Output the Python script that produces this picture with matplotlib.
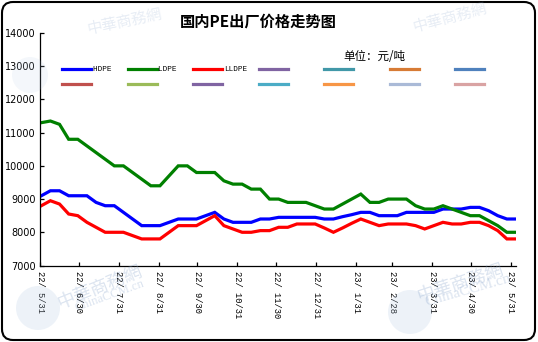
import pandas as pd
import numpy as np
import matplotlib
matplotlib.use('Agg')
import matplotlib.pyplot as plt
import matplotlib.dates as mdates
from matplotlib.lines import Line2D
from matplotlib.patches import FancyBboxPatch, Circle
from matplotlib.transforms import IdentityTransform

plt.rcParams['font.family'] = ['Noto Sans CJK SC', 'DejaVu Sans']

# weekly ex-works prices, yuan/ton
hdpe = [9100, 9250, 9250, 9100, 9100, 9100, 8900, 8800, 8800, 8600,
        8400, 8200, 8200, 8200, 8300, 8400, 8400, 8400, 8500, 8600,
        8400, 8300, 8300, 8300, 8400, 8400, 8450, 8450, 8450, 8450,
        8450, 8400, 8400, 8470, 8530, 8600, 8600, 8500, 8500, 8500,
        8600, 8600, 8600, 8600, 8700, 8700, 8700, 8750, 8750, 8650,
        8500, 8400, 8400]
ldpe = [11300, 11350, 11250, 10800, 10800, 10600, 10400, 10200, 10000, 10000,
        9800, 9600, 9400, 9400, 9700, 10000, 10000, 9800, 9800, 9800,
        9550, 9450, 9450, 9300, 9300, 9000, 9000, 8900, 8900, 8900,
        8800, 8700, 8700, 8850, 9000, 9150, 8900, 8900, 9000, 9000,
        9000, 8800, 8700, 8700, 8800, 8700, 8600, 8500, 8500, 8350,
        8200, 8000, 8000]
lldpe = [8800, 8950, 8850, 8550, 8500, 8300, 8150, 8000, 8000, 8000,
         7900, 7800, 7800, 7800, 8000, 8200, 8200, 8200, 8350, 8500,
         8200, 8100, 8000, 8000, 8050, 8050, 8150, 8150, 8250, 8250,
         8250, 8130, 8000, 8130, 8270, 8400, 8300, 8200, 8250, 8250,
         8250, 8200, 8100, 8200, 8300, 8250, 8250, 8300, 8300, 8200,
         8050, 7800, 7800]

dates = pd.date_range('2022-06-01', '2023-06-04', periods=len(hdpe))
month_ends = pd.date_range('2022-05-31', '2023-05-31', freq='ME')
tick_labels = ['%02d/ %d/%d' % (d.year % 100, d.month, d.day) for d in month_ends]

series = [('HDPE', hdpe, '#0000ff'), ('LDPE', ldpe, '#008000'), ('LLDPE', lldpe, '#ff0000')]
# unused series slots still shown in the legend
spare_colors = ['#8064a2', '#4198a8', '#d77b35', '#4f81bd',
                '#c0504d', '#9bbb59', '#8064a2', '#4bacc6',
                '#f79646', '#aabad7', '#d9a3a3']

fig = plt.figure(figsize=(5.38, 3.42), dpi=100)
ax = fig.add_axes([40/538, 1 - 265.5/342, 476/538, 232.5/342])

handles = []
for name, vals, col in series:
    h, = ax.plot(dates, vals, color=col, lw=2.3, solid_joinstyle='miter')
    handles.append(h)

ax.set_ylim(7000, 14000)
ax.set_yticks(range(7000, 14001, 1000))
ax.set_xlim(pd.Timestamp('2022-05-31'), pd.Timestamp('2023-06-04'))
ax.set_xticks(month_ends)
ax.set_xticklabels(tick_labels, rotation=270, family=['Liberation Mono', 'DejaVu Sans Mono'],
                   fontsize=6.3, va='top', ha='center')
for lab in ax.get_yticklabels():
    lab.set_family('DejaVu Sans')
    lab.set_fontsize(7)
ax.tick_params(axis='both', direction='in', length=3, width=0.9, color='black')
ax.tick_params(axis='x', pad=4)
ax.tick_params(axis='y', pad=3)
for s in ['top', 'right']:
    ax.spines[s].set_visible(False)
for s in ['left', 'bottom']:
    ax.spines[s].set_linewidth(0.9)

# legend: 7 columns x 2 rows, column-major order
leg_h = handles + [Line2D([], [], color=c, lw=2.3) for c in spare_colors]
leg_l = ['HDPE ', 'LDPE ', 'LLDPE'] + ['     '] * len(spare_colors)
order = []
for c in range(7):
    order += [c, c + 7]
leg = fig.legend([leg_h[i] for i in order], [leg_l[i] for i in order],
                 loc='upper left', bbox_to_anchor=(62/538, 1 - 66/342), ncol=7,
                 frameon=False, borderpad=0, borderaxespad=0,
                 handlelength=3.8, handletextpad=0.25, columnspacing=1.5,
                 labelspacing=1.05,
                 prop={'family': ['Liberation Mono', 'DejaVu Sans Mono'], 'size': 5.5})

fig.text(258/538, 1 - 22/342, '国内PE出厂价格走势图', ha='center', va='center',
         fontsize=11, weight='bold')
fig.text(343/538, 1 - 57/342, '单位：元/吨', ha='left', va='center', fontsize=8.3)

# faded site watermarks
wm = '#8aa6cc'
for (x, y, s, r, a) in [(100/538, 1 - 288/342, 13, 22, 0.3), (460/538, 1 - 283/342, 13, 18, 0.3),
                        (125/538, 1 - 22/342, 11, 12, 0.2), (450/538, 1 - 18/342, 11, 15, 0.2)]:
    fig.text(x, y, '中華商務網', color=wm, alpha=a, fontsize=s, rotation=r,
             ha='center', va='center')
fig.text(110/538, 1 - 296/342, 'ChinaCCM.cn', color=wm, alpha=0.3, fontsize=9,
         rotation=20, ha='center', va='center', family='Liberation Serif')
fig.text(468/538, 1 - 290/342, 'ChinaCCM.cn', color=wm, alpha=0.3, fontsize=11,
         rotation=16, ha='center', va='center', family='Liberation Serif')
for cx, cy, rad, a in [(38, 308, 22, 0.25), (410, 312, 22, 0.25), (30, 75, 18, 0.15)]:
    fig.patches.append(Circle((cx, 342 - cy), rad, transform=IdentityTransform(),
                              facecolor='#b8cde6', edgecolor='none', alpha=a))

fig.patches.append(FancyBboxPatch((2, 2), 533, 338, boxstyle='round,pad=0,rounding_size=11',
                                  transform=IdentityTransform(), facecolor='none',
                                  edgecolor='black', lw=1.5))

fig.savefig('out.png', dpi=100)
